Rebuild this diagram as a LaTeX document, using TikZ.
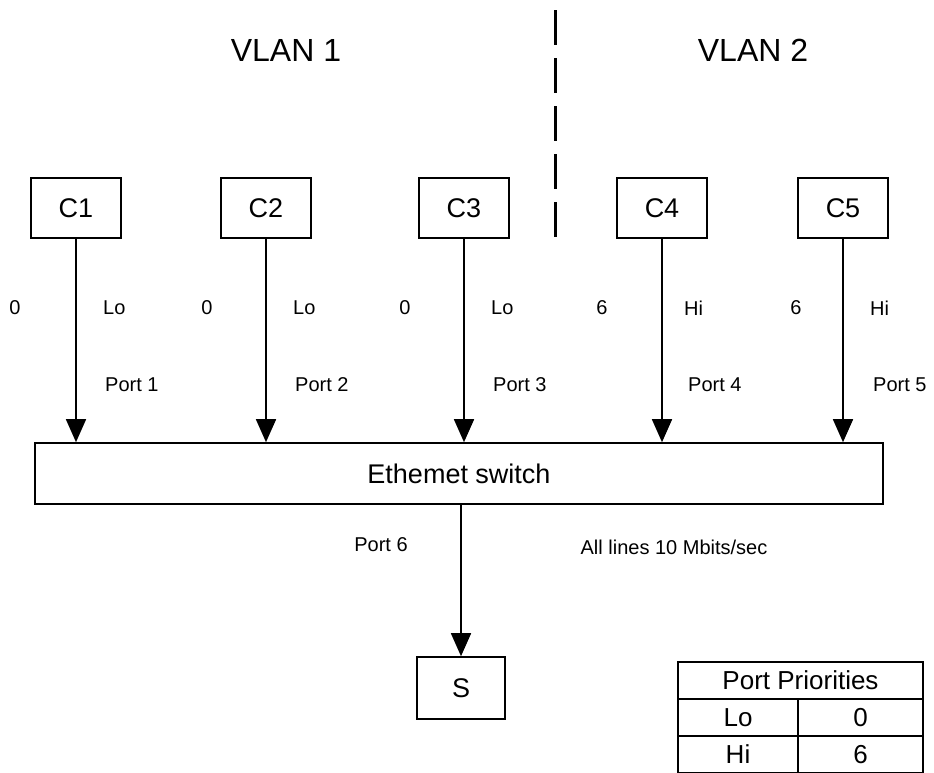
\documentclass[tikz,border=0pt]{standalone}
\usepackage{fontspec}
\setmainfont{Liberation Sans}
\usetikzlibrary{arrows.meta,positioning}

\begin{document}
\begin{tikzpicture}[
  x=1pt, y=-1pt,
  node distance=0pt,
  box/.style={draw, line width=1.6pt, minimum width=90pt, minimum height=60pt, inner sep=0pt, font=\fontsize{27}{30}\selectfont},
  lbl/.style={inner sep=0pt, font=\fontsize{20}{24}\selectfont},
  cell/.style={draw, line width=1.4pt, minimum height=37pt, inner sep=0pt, outer sep=0pt, font=\fontsize{26}{29}\selectfont},
  arr/.style={line width=1.6pt, -{Triangle[length=23pt, width=20pt]}}
]
\useasboundingbox (0,0) rectangle (934,772);

% VLAN headings and divider
\node[inner sep=0pt, font=\fontsize{32}{36}\selectfont] (vlanone) at (286,50) {VLAN 1};
\node[inner sep=0pt, font=\fontsize{32}{36}\selectfont] (vlantwo) at (753,50) {VLAN 2};
\coordinate (divtop) at (555,10);
\coordinate (divbot) at (555,242);
\draw[line width=3pt, dash pattern=on 35pt off 13pt] (divtop) -- (divbot);

% clients
\node[box] (c1) at (76,208) {C1};
\node[box] (c2) at (266,208) {C2};
\node[box] (c3) at (464,208) {C3};
\node[box] (c4) at (662,208) {C4};
\node[box] (c5) at (843,208) {C5};

% switch and server
\node[box, minimum width=848pt, minimum height=61pt, font=\fontsize{27}{30}\selectfont] (sw) at (459,473.5) {Ethemet switch};
\node[box, minimum width=88pt, minimum height=62pt] (srv) at (461,688) {S};

\draw[arr] (c1) -- (c1 |- sw.north);
\draw[arr] (c2) -- (c2 |- sw.north);
\draw[arr] (c3) -- (c3 |- sw.north);
\draw[arr] (c4) -- (c4 |- sw.north);
\draw[arr] (c5) -- (c5 |- sw.north);
\draw[arr] (srv.north |- sw.south) -- (srv.north);

% priority and port labels
\node[lbl] (pa) at (15,308) {0};
\node[lbl, anchor=west] (la) at (103,308) {Lo};
\node[lbl, anchor=west] (pta) at (105,385) {Port 1};
\node[lbl] (pb) at (207,308) {0};
\node[lbl, anchor=west] (lb) at (293,308) {Lo};
\node[lbl, anchor=west] (ptb) at (295,385) {Port 2};
\node[lbl] (pc) at (405,308) {0};
\node[lbl, anchor=west] (lc) at (491,308) {Lo};
\node[lbl, anchor=west] (ptc) at (493,385) {Port 3};
\node[lbl] (pd) at (602,308) {6};
\node[lbl, anchor=west] (ld) at (684,308) {Hi};
\node[lbl, anchor=west] (ptd) at (688,385) {Port 4};
\node[lbl] (pe) at (796,308) {6};
\node[lbl, anchor=west] (le) at (870,308) {Hi};
\node[lbl, anchor=west] (pte) at (873,385) {Port 5};
\node[lbl] (ptf) at (381,545) {Port 6};
\node[lbl] (speed) at (674,547) {All lines 10 Mbits/sec};

% priority table
\node[cell, minimum width=245pt] (prio) at (800.5,680.5) {Port Priorities};
\node[cell, minimum width=120pt, below right=0pt and 0pt of prio.south west] (lo) {Lo};
\node[cell, minimum width=125pt, right=of lo] (lozero) {0};
\node[cell, minimum width=120pt, below=of lo] (hi) {Hi};
\node[cell, minimum width=125pt, right=of hi] (hisix) {6};
\end{tikzpicture}
\end{document}
